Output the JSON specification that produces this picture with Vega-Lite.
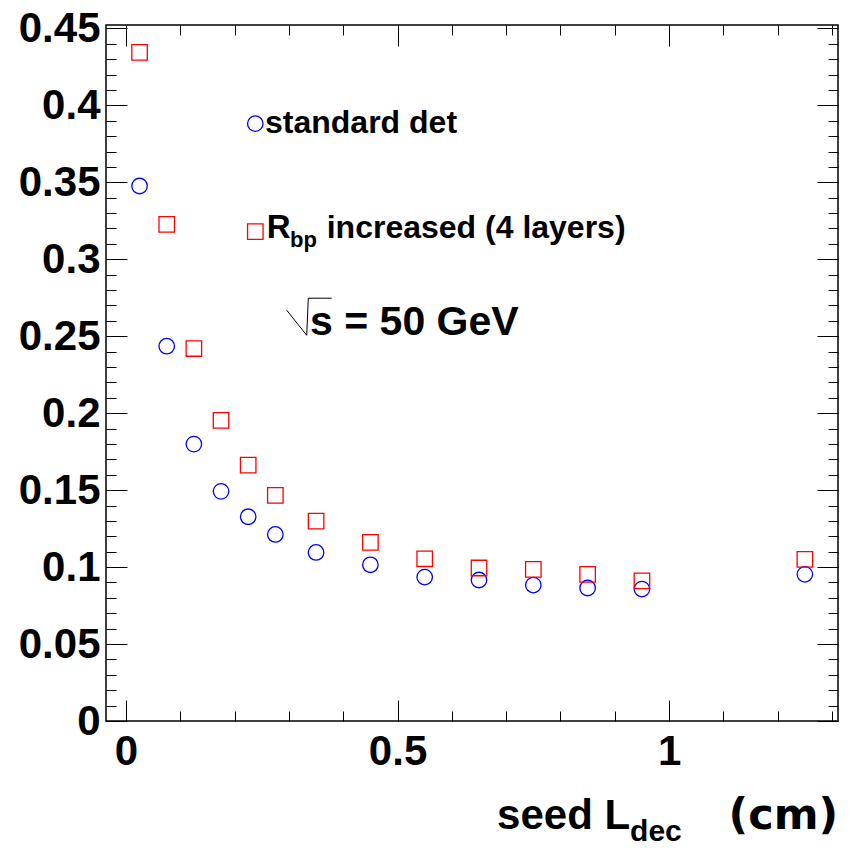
{
  "$schema": "https://vega.github.io/schema/vega-lite/v6.json",
  "width": 732,
  "height": 696,
  "autosize": "none",
  "padding": {"left": 106, "top": 25, "right": 14, "bottom": 127},
  "background": "white",
  "config": {
    "view": {"stroke": "black", "strokeWidth": 1.5},
    "axis": {"grid": false, "domain": false, "tickColor": "black", "tickWidth": 1, "labelFont": "Liberation Sans", "labelFontWeight": "bold", "labelFontSize": 42, "labelColor": "black", "labelFlush": false, "labelOverlap": false},
    "text": {"font": "Liberation Sans", "fontWeight": "bold", "color": "black"}
  },
  "datasets": {
    "standard": [
      {"L": 0.025, "v": 0.3476}, {"L": 0.075, "v": 0.2435}, {"L": 0.125, "v": 0.1799}, {"L": 0.175, "v": 0.1492},
      {"L": 0.225, "v": 0.1327}, {"L": 0.275, "v": 0.1212}, {"L": 0.35, "v": 0.1095}, {"L": 0.45, "v": 0.1015},
      {"L": 0.55, "v": 0.0935}, {"L": 0.65, "v": 0.0916}, {"L": 0.75, "v": 0.0883}, {"L": 0.85, "v": 0.0864},
      {"L": 0.95, "v": 0.0857}, {"L": 1.25, "v": 0.0953}
    ],
    "rbp": [
      {"L": 0.025, "v": 0.4344}, {"L": 0.075, "v": 0.3227}, {"L": 0.125, "v": 0.2420}, {"L": 0.175, "v": 0.1953},
      {"L": 0.225, "v": 0.1662}, {"L": 0.275, "v": 0.1466}, {"L": 0.35, "v": 0.1299}, {"L": 0.45, "v": 0.1160},
      {"L": 0.55, "v": 0.1054}, {"L": 0.65, "v": 0.0994}, {"L": 0.75, "v": 0.0985}, {"L": 0.85, "v": 0.0953},
      {"L": 0.95, "v": 0.0911}, {"L": 1.25, "v": 0.1050}
    ],
    "one": [{"k": 1}]
  },
  "resolve": {"axis": {"x": "independent", "y": "independent"}},
  "layer": [
    {
      "data": {"name": "standard"},
      "mark": {"type": "point", "shape": "circle", "filled": false, "stroke": "#0000ff", "strokeWidth": 1.3, "size": 240, "opacity": 1},
      "encoding": {
        "x": {"field": "L", "type": "quantitative", "scale": {"domain": [-0.0368, 1.311], "nice": false, "zero": false},
              "axis": {"orient": "bottom", "values": [0, 0.5, 1], "format": "~g", "tickSize": -21, "labelPadding": 31, "title": null}},
        "y": {"field": "v", "type": "quantitative", "scale": {"domain": [0, 0.4522], "nice": false, "zero": false},
              "axis": {"orient": "left", "values": [0, 0.05, 0.1, 0.15, 0.2, 0.25, 0.3, 0.35, 0.4, 0.45], "format": "~g", "tickSize": -21, "labelPadding": 27, "title": null}}
      }
    },
    {
      "data": {"name": "rbp"},
      "mark": {"type": "point", "shape": "square", "filled": false, "stroke": "#ff0000", "strokeWidth": 1.3, "size": 240, "opacity": 1},
      "encoding": {
        "x": {"field": "L", "type": "quantitative",
              "axis": {"orient": "bottom", "values": [0, 0.1, 0.2, 0.3, 0.4, 0.5, 0.6, 0.7, 0.8, 0.9, 1, 1.1, 1.2, 1.3], "tickSize": -10, "labels": false, "title": null}},
        "y": {"field": "v", "type": "quantitative",
              "axis": {"orient": "left", "values": [0, 0.01, 0.02, 0.03, 0.04, 0.05, 0.06, 0.07, 0.08, 0.09, 0.1, 0.11, 0.12, 0.13, 0.14, 0.15, 0.16, 0.17, 0.18, 0.19, 0.2, 0.21, 0.22, 0.23, 0.24, 0.25, 0.26, 0.27, 0.28, 0.29, 0.3, 0.31, 0.32, 0.33, 0.34, 0.35, 0.36, 0.37, 0.38, 0.39, 0.4, 0.41, 0.42, 0.43, 0.44, 0.45], "tickSize": -10, "labels": false, "title": null}}
      }
    },
    {
      "data": {"name": "one"},
      "mark": {"type": "point", "shape": "circle", "filled": false, "stroke": "#0000ff", "strokeWidth": 1.3, "size": 240, "opacity": 1},
      "encoding": {
        "x": {"datum": 0.2381, "type": "quantitative",
              "axis": {"orient": "top", "values": [0, 0.5, 1], "tickSize": -21, "labels": false, "title": null}},
        "y": {"datum": 0.3881, "type": "quantitative",
              "axis": {"orient": "right", "values": [0, 0.05, 0.1, 0.15, 0.2, 0.25, 0.3, 0.35, 0.4, 0.45], "tickSize": -21, "labels": false, "title": null}}
      }
    },
    {
      "data": {"name": "one"},
      "mark": {"type": "point", "shape": "square", "filled": false, "stroke": "#ff0000", "strokeWidth": 1.3, "size": 240, "opacity": 1},
      "encoding": {
        "x": {"datum": 0.2381, "type": "quantitative",
              "axis": {"orient": "top", "values": [0, 0.1, 0.2, 0.3, 0.4, 0.5, 0.6, 0.7, 0.8, 0.9, 1, 1.1, 1.2, 1.3], "tickSize": -10, "labels": false, "title": null}},
        "y": {"datum": 0.318, "type": "quantitative",
              "axis": {"orient": "right", "values": [0, 0.01, 0.02, 0.03, 0.04, 0.05, 0.06, 0.07, 0.08, 0.09, 0.1, 0.11, 0.12, 0.13, 0.14, 0.15, 0.16, 0.17, 0.18, 0.19, 0.2, 0.21, 0.22, 0.23, 0.24, 0.25, 0.26, 0.27, 0.28, 0.29, 0.3, 0.31, 0.32, 0.33, 0.34, 0.35, 0.36, 0.37, 0.38, 0.39, 0.4, 0.41, 0.42, 0.43, 0.44, 0.45], "tickSize": -10, "labels": false, "title": null}}
      }
    },
    {
      "data": {"name": "one"},
      "mark": {"type": "text", "align": "left", "baseline": "alphabetic", "fontSize": 32},
      "encoding": {
        "x": {"datum": 0.256, "type": "quantitative", "axis": null},
        "y": {"datum": 0.3818, "type": "quantitative", "axis": null},
        "text": {"value": "standard det"}
      }
    },
    {
      "data": {"name": "one"},
      "mark": {"type": "text", "align": "left", "baseline": "alphabetic", "fontSize": 33},
      "encoding": {
        "x": {"datum": 0.2591, "type": "quantitative", "axis": null},
        "y": {"datum": 0.3138, "type": "quantitative", "axis": null},
        "text": {"value": "R"}
      }
    },
    {
      "data": {"name": "one"},
      "mark": {"type": "text", "align": "left", "baseline": "alphabetic", "fontSize": 22},
      "encoding": {
        "x": {"datum": 0.302, "type": "quantitative", "axis": null},
        "y": {"datum": 0.308, "type": "quantitative", "axis": null},
        "text": {"value": "bp"}
      }
    },
    {
      "data": {"name": "one"},
      "mark": {"type": "text", "align": "left", "baseline": "alphabetic", "fontSize": 32},
      "encoding": {
        "x": {"datum": 0.3696, "type": "quantitative", "axis": null},
        "y": {"datum": 0.3138, "type": "quantitative", "axis": null},
        "text": {"value": "increased (4 layers)"}
      }
    },
    {
      "data": {"name": "one"},
      "mark": {"type": "rule", "color": "black", "strokeWidth": 1},
      "encoding": {
        "x": {"datum": 0.2959, "type": "quantitative", "axis": null},
        "y": {"datum": 0.2669, "type": "quantitative", "axis": null},
        "x2": {"datum": 0.3328},
        "y2": {"datum": 0.2506}
      }
    },
    {
      "data": {"name": "one"},
      "mark": {"type": "rule", "color": "black", "strokeWidth": 1},
      "encoding": {
        "x": {"datum": 0.3328, "type": "quantitative", "axis": null},
        "y": {"datum": 0.2506, "type": "quantitative", "axis": null},
        "x2": {"datum": 0.3357},
        "y2": {"datum": 0.2747}
      }
    },
    {
      "data": {"name": "one"},
      "mark": {"type": "rule", "color": "black", "strokeWidth": 1},
      "encoding": {
        "x": {"datum": 0.3357, "type": "quantitative", "axis": null},
        "y": {"datum": 0.2747, "type": "quantitative", "axis": null},
        "x2": {"datum": 0.3788},
        "y2": {"datum": 0.2747}
      }
    },
    {
      "data": {"name": "one"},
      "mark": {"type": "text", "align": "left", "baseline": "alphabetic", "fontSize": 41},
      "encoding": {
        "x": {"datum": 0.3389, "type": "quantitative", "axis": null},
        "y": {"datum": 0.2506, "type": "quantitative", "axis": null},
        "text": {"value": "s = 50 GeV"}
      }
    },
    {
      "data": {"name": "one"},
      "mark": {"type": "text", "align": "left", "baseline": "alphabetic", "fontSize": 42},
      "encoding": {
        "x": {"datum": 0.6833, "type": "quantitative", "axis": null},
        "y": {"datum": -0.0701, "type": "quantitative", "axis": null},
        "text": {"value": "seed L"}
      }
    },
    {
      "data": {"name": "one"},
      "mark": {"type": "text", "align": "left", "baseline": "alphabetic", "fontSize": 30},
      "encoding": {
        "x": {"datum": 0.9282, "type": "quantitative", "axis": null},
        "y": {"datum": -0.0779, "type": "quantitative", "axis": null},
        "text": {"value": "dec"}
      }
    },
    {
      "data": {"name": "one"},
      "mark": {"type": "text", "align": "right", "baseline": "alphabetic", "fontSize": 43, "font": "DejaVu Sans"},
      "encoding": {
        "x": {"datum": 1.3112, "type": "quantitative", "axis": null},
        "y": {"datum": -0.0701, "type": "quantitative", "axis": null},
        "text": {"value": "(cm)"}
      }
    }
  ]
}
